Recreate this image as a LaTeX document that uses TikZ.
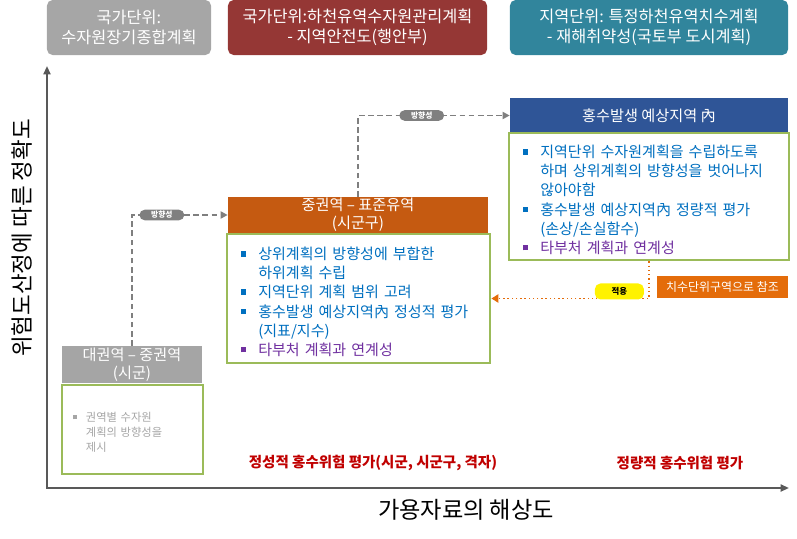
\documentclass[tikz,border=0pt]{standalone}
\usepackage{fontspec}
\setmainfont{Noto Sans CJK KR}
\usepackage{xcolor}
\usetikzlibrary{arrows.meta, positioning}

\definecolor{topgrey}{HTML}{A6A6A6}
\definecolor{topred}{HTML}{953735}
\definecolor{topteal}{HTML}{31859C}
\definecolor{hdgrey}{HTML}{A5A5A5}
\definecolor{hdorange}{HTML}{C55A11}
\definecolor{hdblue}{HTML}{2F5597}
\definecolor{bdgreen}{HTML}{9BBB59}
\definecolor{txtblue}{HTML}{0070C0}
\definecolor{txtpurple}{HTML}{7030A0}
\definecolor{txtgrey}{HTML}{A6A6A6}
\definecolor{lnorange}{HTML}{E46C0A}
\definecolor{lngrey}{HTML}{7F7F7F}
\definecolor{axgrey}{HTML}{595959}
\definecolor{lblred}{HTML}{C00000}

% bullet item: colour, text (use \newline inside)
\newcommand{\bitem}[2]{\par\hangindent=1.15em\hangafter=1\noindent\makebox[1.15em][l]{\textcolor{#1}{\rule[0.2em]{0.36em}{0.36em}}}\textcolor{#1}{#2}\par}

\begin{document}
\begin{tikzpicture}[x=0.025cm, y=-0.025cm,
topbox/.style={rounded corners=4pt, minimum height=1.375cm, align=center, text=white, font=\fontsize{11.6pt}{14.5pt}\selectfont},
hdbox/.style={minimum height=0.9cm, align=center, text=white, inner sep=0pt, font=\fontsize{10.8pt}{13pt}\selectfont},
bdbox/.style={draw=bdgreen, line width=2pt, fill=white, align=left, inner ysep=0pt, font=\fontsize{10.7pt}{13.6pt}\selectfont},
pill/.style={rounded corners=4pt, inner sep=0pt, font=\bfseries\fontsize{5.5pt}{6pt}\selectfont},
conn/.style={lngrey, line width=1.4pt, dash pattern=on 4pt off 2.5pt, -{Triangle[length=5pt, width=5pt]}},
apply/.style={lnorange, line width=1pt, dotted, -{Triangle[length=5pt, width=6pt]}},
axis/.style={axgrey, line width=1.4pt, {Triangle[length=6pt, width=5pt]}-{Triangle[length=6pt, width=5pt]}},
evalbl/.style={text=lblred, font=\bfseries\fontsize{10.3pt}{12pt}\selectfont}
]
\useasboundingbox (0,0) rectangle (797,539);

% top level plans
\node[topbox, fill=topgrey, minimum width=4.1cm] (natl) at (129,27.5) {국가단위:\\수자원장기종합계획};
\node[topbox, fill=topred, minimum width=6.475cm] (basin) at (357.5,27.5) {국가단위:하천유역수자원관리계획\\- 지역안전도(행안부)};
\node[topbox, fill=topteal, minimum width=6.95cm] (local) at (649,27.5) {지역단위: 특정하천유역치수계획\\- 재해취약성(국토부 도시계획)};

% axes
\coordinate (orig) at (47,488);
\coordinate (ytop) at (47,66);
\coordinate (xend) at (789,488);
\draw[axis] (ytop) -- (orig) -- (xend);
\node[rotate=90, font=\fontsize{16pt}{18pt}\selectfont] (ylbl) at (22,238) {위험도산정에 따른 정확도};
\node[font=\fontsize{16.5pt}{18pt}\selectfont] (xlbl) at (466,510) {가용자료의 해상도};

% box A
\node[hdbox, fill=hdgrey, minimum width=3.5cm, minimum height=0.925cm] (hdA) at (132,364.5) {대권역 – 중권역\\(시군)};
\node[bdbox, minimum width=3.525cm, minimum height=2.225cm, text width=2.975cm, inner xsep=0.275cm, font=\fontsize{8pt}{10.7pt}\selectfont] (bdA) at (132.5,429.5)
  {\bitem{txtgrey}{권역별 수자원\newline 계획의 방향성을\newline 제시}};

% box B
\node[hdbox, fill=hdorange, minimum width=6.5cm] (hdB) at (358,215) {중권역 – 표준유역\\(시군구)};
\node[bdbox, minimum width=6.575cm, minimum height=3.225cm, text width=5.875cm, inner xsep=0.35cm] (bdB) at (358.5,298.5)
  {\bitem{txtblue}{상위계획의 방향성에 부합한\newline 하위계획 수립}
   \bitem{txtblue}{지역단위 계획 범위 고려}
   \bitem{txtblue}{홍수발생 예상지역內 정성적 평가\newline (지표/지수)}
   \bitem{txtpurple}{타부처 계획과 연계성}};

% box C
\node[hdbox, fill=hdblue, minimum width=6.95cm, minimum height=0.875cm] (hdC) at (649,115.5) {홍수발생 예상지역 內};
\node[bdbox, minimum width=7cm, minimum height=3.175cm, text width=6.3cm, inner xsep=0.35cm] (bdC) at (649,196.5)
  {\bitem{txtblue}{지역단위 수자원계획을 수립하도록\newline 하며 상위계획의 방향성을 벗어나지\newline 않아야함}
   \bitem{txtblue}{홍수발생 예상지역內 정량적 평가\newline (손상/손실함수)}
   \bitem{txtpurple}{타부처 계획과 연계성}};

% connectors
\draw[conn] (hdA.north) |- node[pos=0.656, pill, fill=lngrey, text=white, minimum width=1.125cm, minimum height=0.27cm] (dirA) {방향성} (hdB.west);
\draw[conn] (hdB.north) |- node[pos=0.71, pill, fill=lngrey, text=white, minimum width=1.125cm, minimum height=0.27cm] (dirB) {방향성} (hdC.west);
\draw[apply] (bdC.south) |- node[pos=0.594, yshift=5pt, pill, fill=yellow, text=black, minimum width=1.225cm, minimum height=0.4cm, font=\bfseries\fontsize{6pt}{7pt}\selectfont] (use) {적용} (bdB.east);
\node[fill=lnorange, text=white, minimum width=3.275cm, minimum height=0.55cm, inner sep=0pt, font=\fontsize{8.5pt}{10pt}\selectfont] (ref) at (722.5,287) {치수단위구역으로 참조};

% evaluation labels
\node[evalbl] (qual) at (373,463) {정성적 홍수위험 평가(시군, 시군구, 격자)};
\node[evalbl] (quant) at (680,463) {정량적 홍수위험 평가};
\end{tikzpicture}
\end{document}
